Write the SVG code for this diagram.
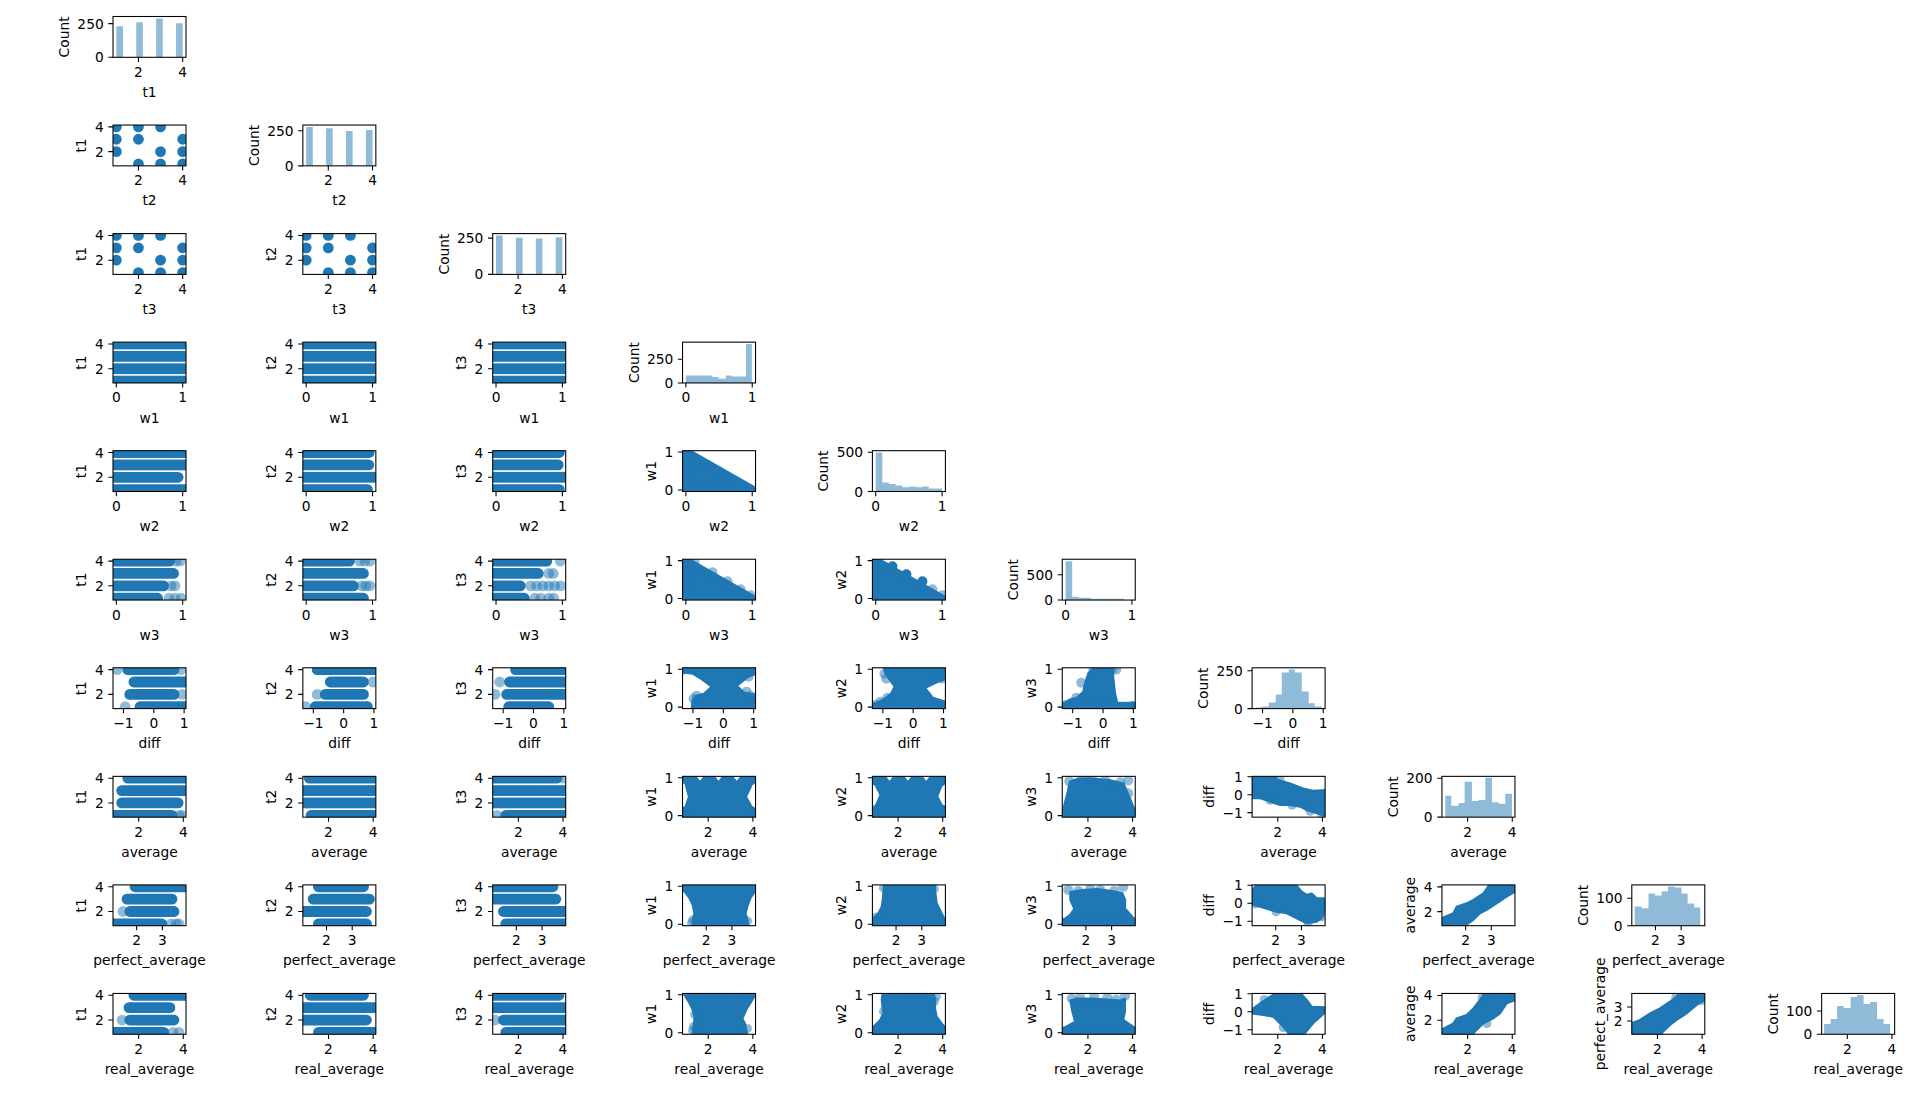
<svg xmlns="http://www.w3.org/2000/svg" xmlns:xlink="http://www.w3.org/1999/xlink" width="1920" height="1097" viewBox="0 0 1920 1097">
<style>
text{font-family:"DejaVu Sans","Liberation Sans",sans-serif;font-size:13.8px;fill:#000}
.m{text-anchor:middle}
.e{text-anchor:end}
.sp{fill:none;stroke:#000;stroke-width:1.07}
.tk{fill:none;stroke:#000;stroke-width:1.07}
.d{fill:#1f77b4}
.ds{fill:#1f77b4;stroke:#1f77b4;stroke-width:2;stroke-linejoin:round}
.l{fill:#1f77b4;fill-opacity:.5}
.h{fill:#8fbbd9}
.w{fill:#fff}
</style>
<defs>
<clipPath id="c"><rect width="73" height="40.8"/></clipPath>
<rect id="sp" class="sp" width="73" height="40.8"/>
<g id="dots" class="d">
<circle cx="3.32" cy="1.85" r="5.4"/><circle cx="25.44" cy="1.85" r="5.4"/><circle cx="47.56" cy="1.85" r="5.4"/>
<circle cx="3.32" cy="14.22" r="5.4"/><circle cx="25.44" cy="14.22" r="5.4"/><circle cx="69.68" cy="14.22" r="5.4"/>
<circle cx="3.32" cy="26.58" r="5.4"/><circle cx="47.56" cy="26.58" r="5.4"/><circle cx="69.68" cy="26.58" r="5.4"/>
<circle cx="25.44" cy="38.95" r="5.4"/><circle cx="47.56" cy="38.95" r="5.4"/><circle cx="69.68" cy="38.95" r="5.4"/>
</g>
<g id="bands4" class="d">
<rect x="-6" y="-3.55" width="85" height="10.8"/><rect x="-6" y="8.82" width="85" height="10.8"/><rect x="-6" y="21.18" width="85" height="10.8"/><rect x="-6" y="33.55" width="85" height="10.8"/>
</g>
<g id="xr0"><path class="tk" d="M25.44 40.8v4.67M69.68 40.8v4.67"/><text class="m" x="25.44" y="60.3">2</text><text class="m" x="69.68" y="60.3">4</text><text class="m" x="36.5" y="80.4">t1</text></g>
<g id="xr1"><path class="tk" d="M25.44 40.8v4.67M69.68 40.8v4.67"/><text class="m" x="25.44" y="60.3">2</text><text class="m" x="69.68" y="60.3">4</text><text class="m" x="36.5" y="80.4">t2</text></g>
<g id="xr2"><path class="tk" d="M25.44 40.8v4.67M69.68 40.8v4.67"/><text class="m" x="25.44" y="60.3">2</text><text class="m" x="69.68" y="60.3">4</text><text class="m" x="36.5" y="80.4">t3</text></g>
<g id="xr3"><path class="tk" d="M3.32 40.8v4.67M69.68 40.8v4.67"/><text class="m" x="3.32" y="60.3">0</text><text class="m" x="69.68" y="60.3">1</text><text class="m" x="36.5" y="80.4">w1</text></g>
<g id="xr4"><path class="tk" d="M3.32 40.8v4.67M69.68 40.8v4.67"/><text class="m" x="3.32" y="60.3">0</text><text class="m" x="69.68" y="60.3">1</text><text class="m" x="36.5" y="80.4">w2</text></g>
<g id="xr5"><path class="tk" d="M3.32 40.8v4.67M69.68 40.8v4.67"/><text class="m" x="3.32" y="60.3">0</text><text class="m" x="69.68" y="60.3">1</text><text class="m" x="36.5" y="80.4">w3</text></g>
<g id="xr6"><path class="tk" d="M10.46 40.8v4.67M40.79 40.8v4.67M71.12 40.8v4.67"/><text class="m" x="10.46" y="60.3">−1</text><text class="m" x="40.79" y="60.3">0</text><text class="m" x="71.12" y="60.3">1</text><text class="m" x="36.5" y="80.4">diff</text></g>
<g id="xr7"><path class="tk" d="M25.67 40.8v4.67M70.31 40.8v4.67"/><text class="m" x="25.67" y="60.3">2</text><text class="m" x="70.31" y="60.3">4</text><text class="m" x="36.5" y="80.4">average</text></g>
<g id="xr8"><path class="tk" d="M23.65 40.8v4.67M49.35 40.8v4.67"/><text class="m" x="23.65" y="60.3">2</text><text class="m" x="49.35" y="60.3">3</text><text class="m" x="36.5" y="80.4">perfect_average</text></g>
<g id="xr9"><path class="tk" d="M25.67 40.8v4.67M70.31 40.8v4.67"/><text class="m" x="25.67" y="60.3">2</text><text class="m" x="70.31" y="60.3">4</text><text class="m" x="36.5" y="80.4">real_average</text></g>
<g id="yc0"><path class="tk" d="M0 26.58h-4.67M0 1.85h-4.67"/><text class="e" x="-9.3" y="31.6">2</text><text class="e" x="-9.3" y="6.87">4</text><text class="m" transform="translate(-26.6 20.4) rotate(-90)">t1</text></g>
<g id="yc1"><path class="tk" d="M0 26.58h-4.67M0 1.85h-4.67"/><text class="e" x="-9.3" y="31.6">2</text><text class="e" x="-9.3" y="6.87">4</text><text class="m" transform="translate(-26.6 20.4) rotate(-90)">t2</text></g>
<g id="yc2"><path class="tk" d="M0 26.58h-4.67M0 1.85h-4.67"/><text class="e" x="-9.3" y="31.6">2</text><text class="e" x="-9.3" y="6.87">4</text><text class="m" transform="translate(-26.6 20.4) rotate(-90)">t3</text></g>
<g id="yc3"><path class="tk" d="M0 39.3h-4.67M0 1.37h-4.67"/><text class="e" x="-9.3" y="44.32">0</text><text class="e" x="-9.3" y="6.39">1</text><text class="m" transform="translate(-26.6 20.4) rotate(-90)">w1</text></g>
<g id="yc4"><path class="tk" d="M0 39.3h-4.67M0 1.37h-4.67"/><text class="e" x="-9.3" y="44.32">0</text><text class="e" x="-9.3" y="6.39">1</text><text class="m" transform="translate(-26.6 20.4) rotate(-90)">w2</text></g>
<g id="yc5"><path class="tk" d="M0 39.3h-4.67M0 1.37h-4.67"/><text class="e" x="-9.3" y="44.32">0</text><text class="e" x="-9.3" y="6.39">1</text><text class="m" transform="translate(-26.6 20.4) rotate(-90)">w3</text></g>
<g id="yc6"><path class="tk" d="M0 .36h-4.67M0 18.34h-4.67M0 36.31h-4.67"/><text class="e" x="-9.3" y="5.38">1</text><text class="e" x="-9.3" y="23.36">0</text><text class="e" x="-9.3" y="41.33">−1</text><text class="m" transform="translate(-38.6 20.4) rotate(-90)">diff</text></g>
<g id="yc7"><path class="tk" d="M0 26.71h-4.67M0 1.98h-4.67"/><text class="e" x="-9.3" y="31.73">2</text><text class="e" x="-9.3" y="7">4</text><text class="m" transform="translate(-26.6 20.4) rotate(-90)">average</text></g>
<g id="yc8"><path class="tk" d="M0 27.53h-4.67M0 13.56h-4.67"/><text class="e" x="-9.3" y="32.55">2</text><text class="e" x="-9.3" y="18.58">3</text><text class="m" transform="translate(-26.6 20.4) rotate(-90)">perfect_average</text></g>
<g id="k0"><path class="tk" d="M0 40.8h-4.67M0 7.14h-4.67"/><text class="e" x="-9.3" y="45.82">0</text><text class="e" x="-9.3" y="12.16">250</text><text class="m" transform="translate(-44 20.4) rotate(-90)">Count</text></g>
<g id="k1"><path class="tk" d="M0 40.8h-4.67M0 5.63h-4.67"/><text class="e" x="-9.3" y="45.82">0</text><text class="e" x="-9.3" y="10.65">250</text><text class="m" transform="translate(-44 20.4) rotate(-90)">Count</text></g>
<g id="k2"><path class="tk" d="M0 40.8h-4.67M0 4.5h-4.67"/><text class="e" x="-9.3" y="45.82">0</text><text class="e" x="-9.3" y="9.52">250</text><text class="m" transform="translate(-44 20.4) rotate(-90)">Count</text></g>
<g id="k3"><path class="tk" d="M0 40.8h-4.67M0 17.08h-4.67"/><text class="e" x="-9.3" y="45.82">0</text><text class="e" x="-9.3" y="22.1">250</text><text class="m" transform="translate(-44 20.4) rotate(-90)">Count</text></g>
<g id="k4"><path class="tk" d="M0 40.8h-4.67M0 1.57h-4.67"/><text class="e" x="-9.3" y="45.82">0</text><text class="e" x="-9.3" y="6.59">500</text><text class="m" transform="translate(-44 20.4) rotate(-90)">Count</text></g>
<g id="k5"><path class="tk" d="M0 40.8h-4.67M0 15.46h-4.67"/><text class="e" x="-9.3" y="45.82">0</text><text class="e" x="-9.3" y="20.48">500</text><text class="m" transform="translate(-44 20.4) rotate(-90)">Count</text></g>
<g id="k6"><path class="tk" d="M0 40.8h-4.67M0 3.02h-4.67"/><text class="e" x="-9.3" y="45.82">0</text><text class="e" x="-9.3" y="8.04">250</text><text class="m" transform="translate(-44 20.4) rotate(-90)">Count</text></g>
<g id="k7"><path class="tk" d="M0 40.8h-4.67M0 1.94h-4.67"/><text class="e" x="-9.3" y="45.82">0</text><text class="e" x="-9.3" y="6.96">200</text><text class="m" transform="translate(-44 20.4) rotate(-90)">Count</text></g>
<g id="k8"><path class="tk" d="M0 40.8h-4.67M0 13.42h-4.67"/><text class="e" x="-9.3" y="45.82">0</text><text class="e" x="-9.3" y="18.44">100</text><text class="m" transform="translate(-44 20.4) rotate(-90)">Count</text></g>
<g id="k9"><path class="tk" d="M0 40.8h-4.67M0 17.49h-4.67"/><text class="e" x="-9.3" y="45.82">0</text><text class="e" x="-9.3" y="22.51">100</text><text class="m" transform="translate(-44 20.4) rotate(-90)">Count</text></g>
</defs>
<rect width="1920" height="1097" fill="#fff"/>

<g id="ax-0-0" transform="translate(113 16.5)"><g clip-path="url(#c)"><path class="h" d="M3.32 40.8V9.83H9.96V40.8ZM23.23 40.8V5.79H29.86V40.8ZM43.13 40.8V1.89H49.77V40.8ZM63.04 40.8V6.87H69.68V40.8Z"/></g><use href="#sp"/><use href="#xr0"/><use href="#k0"/></g>

<g id="ax-1-0" transform="translate(113 125.05)"><g clip-path="url(#c)"><use href="#dots"/></g><use href="#sp"/><use href="#xr1"/><use href="#yc0"/></g>
<g id="ax-1-1" transform="translate(302.85 125.05)"><g clip-path="url(#c)"><path class="h" d="M3.32 40.8V1.83H9.96V40.8ZM23.23 40.8V3.24H29.86V40.8ZM43.13 40.8V5.91H49.77V40.8ZM63.04 40.8V4.93H69.68V40.8Z"/></g><use href="#sp"/><use href="#xr1"/><use href="#k1"/></g>

<g id="ax-2-0" transform="translate(113 233.6)"><g clip-path="url(#c)"><use href="#dots"/></g><use href="#sp"/><use href="#xr2"/><use href="#yc0"/></g>
<g id="ax-2-1" transform="translate(302.85 233.6)"><g clip-path="url(#c)"><use href="#dots"/></g><use href="#sp"/><use href="#xr2"/><use href="#yc1"/></g>
<g id="ax-2-2" transform="translate(492.7 233.6)"><g clip-path="url(#c)"><path class="h" d="M3.32 40.8V1.89H9.96V40.8ZM23.23 40.8V4.21H29.86V40.8ZM43.13 40.8V4.79H49.77V40.8ZM63.04 40.8V3.77H69.68V40.8Z"/></g><use href="#sp"/><use href="#xr2"/><use href="#k2"/></g>

<g id="ax-3-0" transform="translate(113 342.15)"><g clip-path="url(#c)"><use href="#bands4"/></g><use href="#sp"/><use href="#xr3"/><use href="#yc0"/></g>
<g id="ax-3-1" transform="translate(302.85 342.15)"><g clip-path="url(#c)"><use href="#bands4"/></g><use href="#sp"/><use href="#xr3"/><use href="#yc1"/></g>
<g id="ax-3-2" transform="translate(492.7 342.15)"><g clip-path="url(#c)"><use href="#bands4"/></g><use href="#sp"/><use href="#xr3"/><use href="#yc2"/></g>
<g id="ax-3-3" transform="translate(682.55 342.15)"><g clip-path="url(#c)"><path class="h" d="M3.32 40.8V33.3H29.86V34.73H36.1V36.72H43.07V33.3H49.17V34.35H63.51V1.8H69.28V40.8Z"/></g><use href="#sp"/><use href="#xr3"/><use href="#k3"/></g>

<g id="ax-4-0" transform="translate(113 450.7)"><g clip-path="url(#c)"><g class="d"><rect x="-6" y="-3.55" width="85" height="10.8"/><rect x="-6" y="8.82" width="85" height="10.8"/><rect x="-6" y="21.18" width="76.5" height="10.8" rx="5.4"/><rect x="-6" y="33.55" width="85" height="10.8"/></g></g><use href="#sp"/><use href="#xr4"/><use href="#yc0"/></g>
<g id="ax-4-1" transform="translate(302.85 450.7)"><g clip-path="url(#c)"><g class="d"><rect x="-6" y="-3.55" width="77.7" height="10.8" rx="5.4"/><rect x="-6" y="8.82" width="77.3" height="10.8" rx="5.4"/><rect x="-6" y="21.18" width="85" height="10.8"/><rect x="-6" y="33.55" width="76" height="10.8" rx="5.4"/></g></g><use href="#sp"/><use href="#xr4"/><use href="#yc1"/></g>
<g id="ax-4-2" transform="translate(492.7 450.7)"><g clip-path="url(#c)"><g class="d"><rect x="-6" y="-3.55" width="78" height="10.8" rx="5.4"/><rect x="-6" y="8.82" width="76.9" height="10.8" rx="5.4"/><rect x="-6" y="21.18" width="85" height="10.8"/><rect x="-6" y="33.55" width="78" height="10.8" rx="5.4"/></g></g><use href="#sp"/><use href="#xr4"/><use href="#yc2"/></g>
<g id="ax-4-3" transform="translate(682.55 450.7)"><g clip-path="url(#c)"><path class="d" stroke="#1f77b4" stroke-width="9" stroke-linejoin="round" d="M3.32 1.37L3.32 39.3L69.68 39.3Z"/><rect x="-6" y="39" width="85" height="6" class="d"/></g><use href="#sp"/><use href="#xr4"/><use href="#yc3"/></g>
<g id="ax-4-4" transform="translate(872.4 450.7)"><g clip-path="url(#c)"><path class="h" d="M3.32 40.8V1.88H9.96V31.86H16.59V33.19H23.23V34.84H29.86V36.48H36.5V35.78H43.14V36.48H49.77V35.78H56.41V37.82H69.68V40.8Z"/></g><use href="#sp"/><use href="#xr4"/><use href="#k4"/></g>

<g id="ax-5-0" transform="translate(113 559.25)"><g clip-path="url(#c)"><g class="d"><rect x="-6" y="-3.55" width="68" height="10.8" rx="5.4"/><rect x="-6" y="8.82" width="72" height="10.8" rx="5.4"/><rect x="-6" y="21.18" width="62" height="10.8" rx="5.4"/><rect x="-6" y="33.55" width="56" height="10.8" rx="5.4"/><circle class="l" cx="63" cy="1.85" r="5.4"/><circle class="l" cx="67" cy="1.85" r="5.4"/><circle class="l" cx="58" cy="26.58" r="5.4"/><circle class="l" cx="62" cy="26.58" r="5.4"/><circle class="l" cx="56" cy="38.95" r="5.4"/><circle class="l" cx="62" cy="38.95" r="5.4"/><circle class="l" cx="68" cy="38.95" r="5.4"/></g></g><use href="#sp"/><use href="#xr5"/><use href="#yc0"/></g>
<g id="ax-5-1" transform="translate(302.85 559.25)"><g clip-path="url(#c)"><g class="d"><rect x="-6" y="-3.55" width="58" height="10.8" rx="5.4"/><rect x="-6" y="8.82" width="72" height="10.8" rx="5.4"/><rect x="-6" y="21.18" width="62" height="10.8" rx="5.4"/><rect x="-6" y="33.55" width="72" height="10.8" rx="5.4"/><circle class="l" cx="57" cy="1.85" r="5.4"/><circle class="l" cx="62" cy="1.85" r="5.4"/><circle class="l" cx="67" cy="1.85" r="5.4"/><circle class="l" cx="59" cy="26.58" r="5.4"/><circle class="l" cx="63" cy="26.58" r="5.4"/><circle class="l" cx="67" cy="26.58" r="5.4"/></g></g><use href="#sp"/><use href="#xr5"/><use href="#yc1"/></g>
<g id="ax-5-2" transform="translate(492.7 559.25)"><g clip-path="url(#c)"><g class="d"><rect x="-6" y="-3.55" width="65.5" height="10.8" rx="5.4"/><rect x="-6" y="8.82" width="57" height="10.8" rx="5.4"/><rect x="-6" y="21.18" width="39" height="10.8" rx="5.4"/><rect x="-6" y="33.55" width="43" height="10.8" rx="5.4"/><circle class="l" cx="67.6" cy="1.85" r="5.4"/><circle class="l" cx="56" cy="14.22" r="5.4"/><circle class="l" cx="60.5" cy="14.22" r="5.4"/><circle class="l" cx="38" cy="26.58" r="5.4"/><circle class="l" cx="44" cy="26.58" r="5.4"/><circle class="l" cx="50" cy="26.58" r="5.4"/><circle class="l" cx="56" cy="26.58" r="5.4"/><circle class="l" cx="62" cy="26.58" r="5.4"/><circle class="l" cx="68" cy="26.58" r="5.4"/><circle class="l" cx="42" cy="38.95" r="5.4"/><circle class="l" cx="48" cy="38.95" r="5.4"/><circle class="l" cx="56" cy="38.95" r="5.4"/><circle class="l" cx="61" cy="38.95" r="5.4"/></g></g><use href="#sp"/><use href="#xr5"/><use href="#yc2"/></g>
<g id="ax-5-3" transform="translate(682.55 559.25)"><g clip-path="url(#c)"><path class="d" stroke="#1f77b4" stroke-width="8" stroke-linejoin="round" d="M3.32 1.37L3.32 39.3L69.68 39.3Z"/><rect x="-6" y="39" width="85" height="6" class="d"/><g class="l"><circle cx="12" cy="3" r="5"/><circle cx="30" cy="13" r="5"/><circle cx="45" cy="22" r="5"/><circle cx="58" cy="30" r="5"/><circle cx="68" cy="36" r="5"/></g></g><use href="#sp"/><use href="#xr5"/><use href="#yc3"/></g>
<g id="ax-5-4" transform="translate(872.4 559.25)"><g clip-path="url(#c)"><path class="d" stroke="#1f77b4" stroke-width="8" stroke-linejoin="round" d="M3.32 1.37L3.32 39.3L69.68 39.3Z"/><rect x="-6" y="39" width="85" height="6" class="d"/><g class="d"><circle cx="20" cy="7" r="5"/><circle cx="34" cy="15" r="5"/><circle cx="50" cy="22" r="5"/></g><g class="l"><circle cx="60" cy="30" r="5"/><circle cx="70" cy="36" r="5"/></g></g><use href="#sp"/><use href="#xr5"/><use href="#yc4"/></g>
<g id="ax-5-5" transform="translate(1062.25 559.25)"><g clip-path="url(#c)"><path class="h" d="M3.32 40.8V1.93H9.95V37.4H16.59V38.42H28.53V39.43H61.71V40.8Z"/></g><use href="#sp"/><use href="#xr5"/><use href="#k5"/></g>

<g id="ax-6-0" transform="translate(113 667.8)"><g clip-path="url(#c)"><g class="d"><rect x="9.4" y="-3.55" width="57" height="10.8" rx="5.4"/><rect x="15.5" y="8.82" width="63.5" height="10.8" rx="5.4"/><rect x="11.4" y="21.18" width="55" height="10.8" rx="5.4"/><rect x="21.6" y="33.55" width="57.4" height="10.8" rx="5.4"/><circle class="l" cx="4.1" cy="1.85" r="5.4"/><circle class="l" cx="68" cy="1.85" r="5.4"/><circle class="l" cx="69" cy="26.58" r="5.4"/><circle class="l" cx="12.2" cy="38.95" r="5.4"/></g></g><use href="#sp"/><use href="#xr6"/><use href="#yc0"/></g>
<g id="ax-6-1" transform="translate(302.85 667.8)"><g clip-path="url(#c)"><g class="d"><rect x="9" y="-3.55" width="70" height="10.8" rx="5.4"/><rect x="22" y="8.82" width="44" height="10.8" rx="5.4"/><rect x="17" y="21.18" width="49" height="10.8" rx="5.4"/><rect x="7" y="33.55" width="63" height="10.8" rx="5.4"/><circle class="l" cx="70" cy="14.22" r="5.4"/><circle class="l" cx="14.3" cy="26.58" r="5.4"/><circle class="l" cx="2.9" cy="38.95" r="5.4"/></g></g><use href="#sp"/><use href="#xr6"/><use href="#yc1"/></g>
<g id="ax-6-2" transform="translate(492.7 667.8)"><g clip-path="url(#c)"><g class="d"><rect x="17.5" y="-3.55" width="61.5" height="10.8" rx="5.4"/><rect x="11.4" y="8.82" width="67.6" height="10.8" rx="5.4"/><rect x="8.6" y="21.18" width="70.4" height="10.8" rx="5.4"/><rect x="10.6" y="33.55" width="50.9" height="10.8" rx="5.4"/><circle class="l" cx="7" cy="14.22" r="5.4"/><circle class="l" cx="2.4" cy="26.58" r="5.4"/></g></g><use href="#sp"/><use href="#xr6"/><use href="#yc2"/></g>
<g id="ax-6-3" transform="translate(682.55 667.8)"><g clip-path="url(#c)"><rect class="d" x="-1" y="-1" width="75" height="43"/><path class="w" d="M-1 5.5L10 7L18 12L27.5 19L21 25L13 27L9 32L8 42L-1 42Z"/><path class="w" d="M74 7L66 10L55.8 18.2L62.5 24L74 26Z"/><g class="l"><circle cx="2" cy="2" r="5"/><circle cx="11" cy="31" r="5"/><circle cx="14" cy="28" r="5"/><circle cx="64" cy="24" r="5"/><circle cx="68" cy="28" r="5"/><circle cx="66" cy="9" r="5"/></g></g><use href="#sp"/><use href="#xr6"/><use href="#yc3"/></g>
<g id="ax-6-4" transform="translate(872.4 667.8)"><g clip-path="url(#c)"><rect class="d" x="-1" y="-1" width="75" height="43"/><path class="w" d="M-1 -1L10 -1L12 6L16 12L21 19L17.7 25.5L11 30.5L4 34L-1 35Z"/><path class="w" d="M74 12L66 15L54.3 20.5L61 29L74 33Z"/><g class="l"><circle cx="12" cy="6" r="5"/><circle cx="14" cy="11" r="5"/><circle cx="3" cy="37" r="5"/><circle cx="8" cy="34" r="5"/><circle cx="15" cy="30" r="5"/><circle cx="67" cy="6" r="5"/><circle cx="69" cy="11" r="5"/></g></g><use href="#sp"/><use href="#xr6"/><use href="#yc4"/></g>
<g id="ax-6-5" transform="translate(1062.25 667.8)"><g clip-path="url(#c)"><rect class="d" x="-1" y="34" width="75" height="8"/><path class="ds" d="M3 35L7 32L14.4 30L21 24L22.7 15.5L26 5.5L31 .5L51 .5L51 9L52.8 25.5L55 35Z"/><g class="l"><circle cx="4" cy="37" r="5"/><circle cx="14" cy="30" r="5"/><circle cx="19" cy="15" r="5"/><circle cx="31" cy="2" r="5"/><circle cx="50" cy="1" r="5"/><circle cx="54" cy="2" r="5"/><circle cx="70" cy="38" r="5"/></g></g><use href="#sp"/><use href="#xr6"/><use href="#yc5"/></g>
<g id="ax-6-6" transform="translate(1252.1 667.8)"><g clip-path="url(#c)"><path class="h" d="M3.67 40.8V39.67H9.67V38.67H16.67V34.67H23.67V26.67H29.67V4.67H36.67V1.67H42.67V4.67H49.67V23.67H56.67V35.33H62.67V38.67H69.67V40.8Z"/></g><use href="#sp"/><use href="#xr6"/><use href="#k6"/></g>

<g id="ax-7-0" transform="translate(113 776.35)"><g clip-path="url(#c)"><g class="d"><rect x="9.4" y="-3.55" width="69.6" height="10.8" rx="5.4"/><rect x="3.3" y="8.82" width="75.7" height="10.8" rx="5.4"/><rect x="3.3" y="21.18" width="67.2" height="10.8" rx="5.4"/><rect x="-6" y="33.55" width="70.4" height="10.8" rx="5.4"/><circle class="l" cx="66" cy="38.95" r="5.4"/><circle class="l" cx="69" cy="38.95" r="5.4"/></g></g><use href="#sp"/><use href="#xr7"/><use href="#yc0"/></g>
<g id="ax-7-1" transform="translate(302.85 776.35)"><g clip-path="url(#c)"><g class="d"><rect x="1" y="-3.55" width="78" height="10.8" rx="5.4"/><rect x="-6" y="8.82" width="85" height="10.8"/><rect x="-6" y="21.18" width="85" height="10.8"/><rect x="2.9" y="33.55" width="76.1" height="10.8" rx="5.4"/></g></g><use href="#sp"/><use href="#xr7"/><use href="#yc1"/></g>
<g id="ax-7-2" transform="translate(492.7 776.35)"><g clip-path="url(#c)"><g class="d"><rect x="-6" y="-3.55" width="75.7" height="10.8" rx="5.4"/><rect x="-6" y="8.82" width="85" height="10.8"/><rect x="-6" y="21.18" width="85" height="10.8"/><rect x="7.7" y="33.55" width="71.3" height="10.8" rx="5.4"/><circle class="l" cx="71" cy="1.85" r="5.4"/><circle class="l" cx="4.5" cy="38.95" r="5.4"/></g></g><use href="#sp"/><use href="#xr7"/><use href="#yc2"/></g>
<g id="ax-7-3" transform="translate(682.55 776.35)"><g clip-path="url(#c)"><rect class="d" x="-1" y="-1" width="75" height="43"/><path class="w" d="M13.3 -1L17.5 4.3L21.7 -1ZM31.8 -1L36 4.3L40.2 -1ZM50 -1L54.2 4.3L58.4 -1Z"/><path class="w" d="M-1 6L2 8L5.3 20.3L2 30L-1 32Z"/><path class="w" d="M74 6L70 9L64.6 20.3L70 30L74 32Z"/><g class="l"><circle cx="3" cy="35" r="4.5"/><circle cx="70" cy="35" r="4.5"/></g></g><use href="#sp"/><use href="#xr7"/><use href="#yc3"/></g>
<g id="ax-7-4" transform="translate(872.4 776.35)"><g clip-path="url(#c)"><rect class="d" x="-1" y="-1" width="75" height="43"/><path class="w" d="M12.9 -1L17.1 4.3L21.3 -1ZM31.3 -1L35.5 4.3L39.7 -1ZM49.6 -1L53.8 4.3L58 -1Z"/><path class="w" d="M-1 8L2 9L7 18.7L2 30L-1 30Z"/><path class="w" d="M74 7L70 10L66 20L70 28L74 30Z"/><g class="l"><circle cx="68" cy="6" r="4.5"/><circle cx="3" cy="33" r="4.5"/></g></g><use href="#sp"/><use href="#xr7"/><use href="#yc4"/></g>
<g id="ax-7-5" transform="translate(1062.25 776.35)"><g clip-path="url(#c)"><rect class="d" x="-1" y="31" width="75" height="11"/><path class="ds" d="M1.2 32L5.4 15.3L7.5 5.3L15 2.5L26 2L47 3.7L61.4 7L65.6 17L71.8 32Z"/><g class="l"><circle cx="7" cy="5" r="5"/><circle cx="20" cy="3" r="5"/><circle cx="30" cy="2.5" r="5"/><circle cx="43" cy="4" r="5"/><circle cx="58" cy="6" r="5"/><circle cx="66" cy="4" r="5"/><circle cx="66" cy="17" r="5"/></g></g><use href="#sp"/><use href="#xr7"/><use href="#yc5"/></g>
<g id="ax-7-6" transform="translate(1252.1 776.35)"><g clip-path="url(#c)"><path class="ds" d="M-1 -1L22 -1L26 3.7L38 7L51 12L61 14.3L74 13.7L74 40L64.6 37L54.6 33.7L48 30.3L38 28.7L28 28.7L18 25.3L8 22L-1 22Z"/><g class="l"><circle cx="18" cy="24" r="4.5"/><circle cx="40" cy="29" r="4.5"/><circle cx="58" cy="35" r="4.5"/><circle cx="70" cy="39" r="4.5"/><circle cx="28" cy="3" r="4.5"/></g></g><use href="#sp"/><use href="#xr7"/><use href="#yc6"/></g>
<g id="ax-7-7" transform="translate(1441.95 776.35)"><g clip-path="url(#c)"><path class="h" d="M3.33 40.8V19.33H9.33V29.33H16.67V26.67H22.67V5.33H30V24.67H36.67V23.67H43.33V1.33H50V26H56.67V27.33H63.33V17.33H70V40.8Z"/></g><use href="#sp"/><use href="#xr7"/><use href="#k7"/></g>

<g id="ax-8-0" transform="translate(113 884.9)"><g clip-path="url(#c)"><g class="d"><rect x="16.7" y="-3.55" width="62.3" height="10.8" rx="5.4"/><rect x="8.6" y="8.82" width="55.8" height="10.8" rx="5.4"/><rect x="11.4" y="21.18" width="55" height="10.8" rx="5.4"/><rect x="-6" y="33.55" width="60.2" height="10.8" rx="5.4"/><circle class="l" cx="10" cy="26.58" r="5.4"/><circle class="l" cx="58" cy="38.95" r="5.4"/><circle class="l" cx="63" cy="38.95" r="5.4"/><circle class="l" cx="66" cy="38.95" r="5.4"/></g></g><use href="#sp"/><use href="#xr8"/><use href="#yc0"/></g>
<g id="ax-8-1" transform="translate(302.85 884.9)"><g clip-path="url(#c)"><g class="d"><rect x="10.2" y="-3.55" width="55.8" height="10.8" rx="5.4"/><rect x="4.9" y="8.82" width="67.1" height="10.8" rx="5.4"/><rect x="-6" y="21.18" width="75" height="10.8" rx="5.4"/><rect x="10.2" y="33.55" width="58.8" height="10.8" rx="5.4"/></g></g><use href="#sp"/><use href="#xr8"/><use href="#yc1"/></g>
<g id="ax-8-2" transform="translate(492.7 884.9)"><g clip-path="url(#c)"><g class="d"><rect x="-6" y="-3.55" width="71.6" height="10.8" rx="5.4"/><rect x="-6" y="8.82" width="74.5" height="10.8" rx="5.4"/><rect x="5.3" y="21.18" width="73.7" height="10.8" rx="5.4"/><rect x="7.7" y="33.55" width="71.3" height="10.8" rx="5.4"/></g></g><use href="#sp"/><use href="#xr8"/><use href="#yc2"/></g>
<g id="ax-8-3" transform="translate(682.55 884.9)"><g clip-path="url(#c)"><rect class="d" x="-1" y="-1" width="75" height="43"/><path class="w" d="M-1 6L1 7L5.8 13.4L9.1 20L10.8 28.4L9 35L9 42L-1 42Z"/><path class="w" d="M74 6L69 13.4L65.8 21.8L64.1 28.4L66 35L67 42L74 42Z"/><g class="l"><circle cx="10" cy="35" r="4.5"/><circle cx="9" cy="38" r="4.5"/><circle cx="65" cy="36" r="4.5"/></g></g><use href="#sp"/><use href="#xr8"/><use href="#yc3"/></g>
<g id="ax-8-4" transform="translate(872.4 884.9)"><g clip-path="url(#c)"><path class="ds" d="M-1 34L1 33.4L6 28.4L9.3 21.8L10.3 15.1L11 5.1L11.7 -1L62.7 -1L62.7 5L64.3 18.4L69.3 28.4L73.3 36.8L74 37L74 42L-1 42Z"/><g class="l"><circle cx="11" cy="3" r="4.5"/><circle cx="62" cy="4" r="4.5"/><circle cx="4" cy="32" r="4.5"/></g></g><use href="#sp"/><use href="#xr8"/><use href="#yc4"/></g>
<g id="ax-8-5" transform="translate(1062.25 884.9)"><g clip-path="url(#c)"><rect class="d" x="-1" y="33" width="75" height="9"/><path class="ds" d="M0 36L7.8 30L12 24L8 15L8 7L20 5L35 4L50 6L60 8L63 15L62.8 23.4L72 34Z"/><g class="l"><circle cx="6" cy="5" r="5"/><circle cx="16" cy="6" r="5"/><circle cx="28" cy="4" r="5"/><circle cx="38" cy="5" r="5"/><circle cx="52" cy="6" r="5"/><circle cx="61" cy="2" r="5"/></g></g><use href="#sp"/><use href="#xr8"/><use href="#yc5"/></g>
<g id="ax-8-6" transform="translate(1252.1 884.9)"><g clip-path="url(#c)"><path class="ds" d="M.6 5L4.6 -1L43 -1L49.7 6.8L54.6 10L59.6 8.5L64.6 13.4L74 13.4L74 25L69.6 33.4L64.6 36.8L54.6 38.4L44.6 33.4L34.6 28.4L24.6 26.8L17.9 25L8 21.8L.6 20Z"/><g class="l"><circle cx="3" cy="19" r="4.5"/><circle cx="24" cy="27" r="4.5"/><circle cx="56" cy="38" r="4.5"/><circle cx="70" cy="32" r="4.5"/></g></g><use href="#sp"/><use href="#xr8"/><use href="#yc6"/></g>
<g id="ax-8-7" transform="translate(1441.95 884.9)"><g clip-path="url(#c)"><path class="ds" d="M-1 33.4L11.4 28.4L14.7 21.8L24.7 18.4L31.4 15L41.4 8.4L48 -1L74 -1L73.4 6.8L64.7 11.8L54.7 18.4L44.7 25L38 28.4L31.4 35L24.7 39.4L23 42L-1 42Z"/></g><use href="#sp"/><use href="#xr8"/><use href="#yc7"/></g>
<g id="ax-8-8" transform="translate(1631.8 884.9)"><g clip-path="url(#c)"><path class="h" d="M2.85 40.8V21.67H9.78V23.33H16.71V8.67H23.23V10.67H29.75V6.33H36.27V1.67H42.79V2.67H49.72V8.67H55.83V18.67H62.35V22.67H68.46V40.8Z"/></g><use href="#sp"/><use href="#xr8"/><use href="#k8"/></g>

<g id="ax-9-0" transform="translate(113 993.45)"><g clip-path="url(#c)"><g class="d"><rect x="15.5" y="-3.55" width="63.5" height="10.8" rx="5.4"/><rect x="10.6" y="8.82" width="51.7" height="10.8" rx="5.4"/><rect x="11.4" y="21.18" width="55" height="10.8" rx="5.4"/><rect x="-6" y="33.55" width="62.2" height="10.8" rx="5.4"/><circle class="l" cx="9" cy="26.58" r="5.4"/><circle class="l" cx="60" cy="38.95" r="5.4"/><circle class="l" cx="66" cy="38.95" r="5.4"/></g></g><use href="#sp"/><use href="#xr9"/><use href="#yc0"/></g>
<g id="ax-9-1" transform="translate(302.85 993.45)"><g clip-path="url(#c)"><g class="d"><rect x="2" y="-3.55" width="64" height="10.8" rx="5.4"/><rect x="-6" y="8.82" width="85" height="10.8"/><rect x="-6" y="21.18" width="75" height="10.8" rx="5.4"/><rect x="10.2" y="33.55" width="68.8" height="10.8" rx="5.4"/></g></g><use href="#sp"/><use href="#xr9"/><use href="#yc1"/></g>
<g id="ax-9-2" transform="translate(492.7 993.45)"><g clip-path="url(#c)"><g class="d"><rect x="-6" y="-3.55" width="77.7" height="10.8" rx="5.4"/><rect x="-6" y="8.82" width="85" height="10.8"/><rect x="5.3" y="21.18" width="73.7" height="10.8" rx="5.4"/><rect x="7.7" y="33.55" width="71.3" height="10.8" rx="5.4"/><circle class="l" cx="2.4" cy="26.58" r="5.4"/></g></g><use href="#sp"/><use href="#xr9"/><use href="#yc2"/></g>
<g id="ax-9-3" transform="translate(682.55 993.45)"><g clip-path="url(#c)"><rect class="d" x="-1" y="-1" width="75" height="43"/><path class="w" d="M-1 1L1 2L5.8 9.9L9.1 16.5L11 24L10 32L9 42L-1 42Z"/><path class="w" d="M74 1L69 9.9L64.8 16.5L61 25L63.5 30L66 42L74 42Z"/><g class="l"><circle cx="12" cy="21" r="4.5"/><circle cx="11" cy="33" r="4.5"/><circle cx="10" cy="37" r="4.5"/><circle cx="65" cy="35" r="4.5"/></g></g><use href="#sp"/><use href="#xr9"/><use href="#yc3"/></g>
<g id="ax-9-4" transform="translate(872.4 993.45)"><g clip-path="url(#c)"><path class="ds" d="M-1 34L1 33.2L7.7 26.5L11 19.9L10 13L9.3 6.5L10.3 -1L61 -1L62.7 5L62.7 14.9L64.3 23.2L69.3 29.9L73.3 34.9L74 35L74 42L-1 42Z"/><g class="l"><circle cx="11" cy="18" r="4.5"/><circle cx="64" cy="3" r="4.5"/><circle cx="62" cy="8" r="4.5"/></g></g><use href="#sp"/><use href="#xr9"/><use href="#yc4"/></g>
<g id="ax-9-5" transform="translate(1062.25 993.45)"><g clip-path="url(#c)"><rect class="d" x="-1" y="33" width="75" height="9"/><path class="ds" d="M1 35L12.8 28.2L10 18L8 7L15 5L30 5L45 6L58 7L62.8 5L62.8 18.2L61 26.5L72 34Z"/><g class="l"><circle cx="9.4" cy="5" r="5"/><circle cx="18" cy="4" r="5"/><circle cx="32" cy="3" r="5"/><circle cx="45" cy="4" r="5"/><circle cx="54" cy="6" r="5"/><circle cx="62.8" cy="2.5" r="5"/></g></g><use href="#sp"/><use href="#xr9"/><use href="#yc5"/></g>
<g id="ax-9-6" transform="translate(1252.1 993.45)"><g clip-path="url(#c)"><path class="ds" d="M-1 16.5L8 9.9L18 3.2L24.6 -1L48 -1L54.6 6.5L59.6 13.2L74 13.9L74 18.2L61 29.9L51 42L38 42L31 33.2L21 23.2L11 21.5L-1 19.9Z"/><g class="l"><circle cx="31" cy="34" r="4.5"/><circle cx="12" cy="6" r="4.5"/></g></g><use href="#sp"/><use href="#xr9"/><use href="#yc6"/></g>
<g id="ax-9-7" transform="translate(1441.95 993.45)"><g clip-path="url(#c)"><path class="ds" d="M-1 36.5L11.4 29.9L14.7 24.9L24.7 21.5L31.4 14.9L38 6.5L43 -1L74 -1L73.4 6.5L64.7 9.9L58 19.9L51.4 24.9L41.4 29.9L34.7 36.5L29.7 42L-1 42Z"/><g class="l"><circle cx="40" cy="4" r="4.5"/><circle cx="45" cy="30" r="4.5"/></g></g><use href="#sp"/><use href="#xr9"/><use href="#yc7"/></g>
<g id="ax-9-8" transform="translate(1631.8 993.45)"><g clip-path="url(#c)"><path class="ds" d="M-1 29.9L8.2 26.5L18.2 19.9L28.2 14.9L38.2 8.2L44.9 3.2L48.2 -1L74 -1L73.5 6.5L64.9 11.5L54.9 19.9L44.9 26.5L38.2 31.5L31.5 38.2L28.2 42L-1 42Z"/><g class="l"><circle cx="44" cy="4" r="4.5"/><circle cx="70" cy="7" r="4.5"/></g></g><use href="#sp"/><use href="#xr9"/><use href="#yc8"/></g>
<g id="ax-9-9" transform="translate(1821.65 993.45)"><g clip-path="url(#c)"><path class="h" d="M2.44 40.8V30.67H8.96V25.67H15.48V12.67H22V14.67H28.93V3.67H35.45V1.67H41.97V10.67H48.49V8.67H55.42V25.67H61.94V30.67H68.46V40.8Z"/></g><use href="#sp"/><use href="#xr9"/><use href="#k9"/></g>
</svg>
